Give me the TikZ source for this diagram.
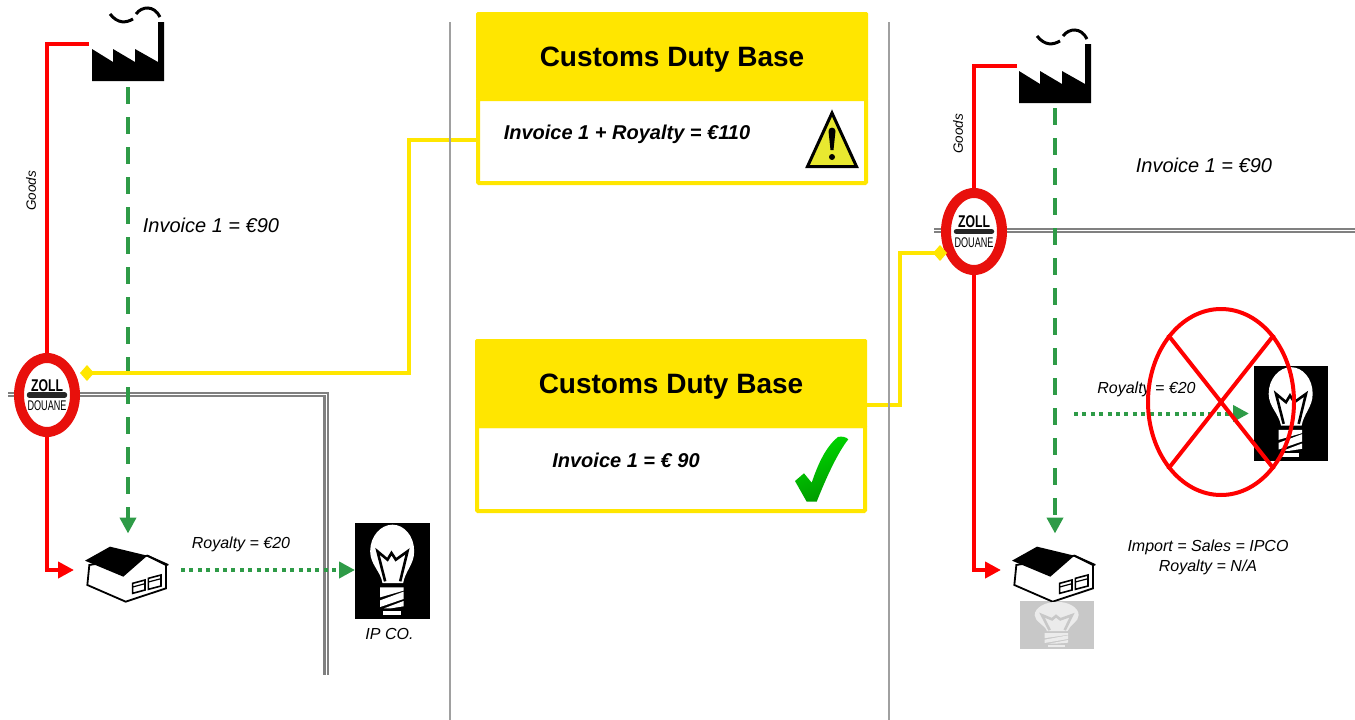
\documentclass[tikz,border=0pt]{standalone}
\usepackage{fontspec}
\setmainfont{Liberation Sans}
\usepackage{xcolor}
\usepackage{tikz}
\usetikzlibrary{arrows.meta, positioning, calc, shapes.geometric}
\definecolor{DutyYellow}{RGB}{255, 230, 0}
\definecolor{SignRed}{RGB}{232, 16, 12}
\definecolor{FlowGreen}{RGB}{46, 155, 71}
\definecolor{WallGray}{RGB}{128, 128, 128}
\definecolor{DividerGray}{RGB}{160, 160, 160}
\definecolor{FadedGray}{RGB}{200, 200, 200}
\definecolor{WarnYellow}{RGB}{232, 232, 48}
\newcommand{\signtext}{%
  \scalebox{.72}[1]{\fontsize{17}{17}\selectfont\bfseries ZOLL}\\[7.5pt]%
  \scalebox{.65}[1]{\fontsize{14}{14}\selectfont DOUANE}}
\tikzset{
  iconbox/.style={minimum width=#1, inner sep=0pt, outer sep=0pt},
  goodsline/.style={draw=red, line width=4.4pt},
  invoiceline/.style={draw=FlowGreen, line width=4pt, dash pattern=on 17pt off 13pt},
  royaltyline/.style={draw=FlowGreen, line width=4pt, dash pattern=on 4pt off 4.4pt},
  flowtip/.style={-{Triangle[length=16pt,width=16pt]}},
  dutyline/.style={draw=DutyYellow, line width=4pt, -{Diamond[length=14pt,width=16pt]}},
  wall/.style={draw=WallGray, line width=2.2pt, double=white, double distance=1pt},
  divider/.style={draw=DividerGray, line width=2pt},
  dutytitle/.style={fill=DutyYellow, minimum width=392pt, inner sep=0pt, outer sep=0pt,
    rounded corners=1.5pt, text height=20pt, text depth=0pt,
    font=\fontsize{28}{30}\selectfont\bfseries},
  dutybody/.style={draw=DutyYellow, fill=white, line width=4pt, minimum width=388pt,
    inner sep=0pt, rounded corners=1pt},
  dutytext/.style={font=\fontsize{20}{24}\selectfont\bfseries\itshape, inner sep=0pt},
  customssign/.style={ellipse, draw=SignRed, fill=white, line width=10pt, minimum width=56pt,
    inner sep=0pt, align=center},
  signbar/.style={draw=black!85, line width=5.5pt, line cap=round},
  amounttext/.style={font=\fontsize{20}{24}\selectfont\itshape, inner sep=0pt},
  smalltext/.style={font=\fontsize{16}{20}\selectfont\itshape, inner sep=0pt, align=center},
  goodstext/.style={font=\fontsize{13.5}{16}\selectfont\itshape, inner sep=0pt, rotate=90},
  pics/factory/.style={code={
    \fill[black] (-36,-2) -- (-15,11) -- (-15,-2) -- (7,11) -- (7,-2) -- (30,11) -- (30,-29)
      -- (36,-29) -- (36,30) -- (-36,30) -- cycle;
    \draw[black, line width=3pt] (-18,-37) .. controls (-10,-27) and (-2,-28) .. (5,-32);
    \draw[black, line width=3pt] (8,-37) .. controls (14,-45) and (26,-46) .. (32,-34);
  }},
  pics/warehouse/.style={code={
    \begin{scope}[shift={(-199.5,-180)}]
      \draw[black, fill=white, line width=1.8pt] (88,165) -- (82,225) -- (197,275) -- (318,235)
        -- (318,165) -- (262,137) -- cycle;
      \fill[black] (75,152) -- (150,110) -- (262,137) -- (190,200) -- cycle;
      \draw[black, line width=1.8pt] (262,137) -- (325,165);
      \draw[black, fill=white, line width=1.6pt] (218,220) -- (255,210) -- (255,240) -- (218,250) -- cycle;
      \draw[black, fill=white, line width=1.6pt] (265,205) -- (303,195) -- (303,228) -- (265,238) -- cycle;
      \draw[black, line width=1.2pt] (218,231) -- (255,221) (265,216) -- (303,206);
    \end{scope}
  }},
  pics/bulb/.style n args={2}{code={
    \fill[#1] (-30,36) .. controls (-36,0) and (-67,-20) .. (-67,-59)
      .. controls (-67,-105) and (-35,-139) .. (0,-139)
      .. controls (35,-139) and (65,-105) .. (65,-59)
      .. controls (65,-20) and (38,0) .. (32,36) -- cycle;
    \draw[#2, line width=2.6pt, line join=miter] (-22,31) -- (-45,-59) -- (-15,-34) -- (-3,-54)
      -- (10,-34) -- (45,-59) -- (23,31);
    \fill[#1] (-37,49) -- (33,49) -- (33,59) -- (-37,79) -- cycle;
    \fill[#1] (-37,88) -- (33,62) -- (33,84) -- (-37,108) -- cycle;
    \fill[#1] (-25,112) -- (33,90) -- (33,106) -- (-5,112) -- cycle;
    \fill[#1] (-28,119) -- (25,119) -- (25,131) -- (-28,131) -- cycle;
  }}
}
\begin{document}
\begin{tikzpicture}[x=1pt, y=-1pt]
  \useasboundingbox (0,0) rectangle (1355,720);

  \node[iconbox=72pt, minimum height=60pt] (factoryA) at (128,51) {};
  \node[iconbox=72pt, minimum height=60pt] (factoryB) at (1055,73) {};
  \node[iconbox=83pt, minimum height=65pt] (houseA) at (126.5,570) {};
  \node[iconbox=83pt, minimum height=65pt] (houseB) at (1053.5,570) {};
  \node[iconbox=75pt, minimum height=96pt, fill=black] (bulbA) at (392.5,571) {};
  \node[iconbox=74pt, minimum height=95pt, fill=black] (bulbB) at (1291,413.5) {};
  \node[iconbox=74pt, minimum height=48pt, fill=FadedGray] (bulbC) at (1057,625) {};
  \pic at (factoryA) {factory};
  \pic at (factoryB) {factory};
  \pic[scale=1/3] at (houseA) {warehouse};
  \pic[scale=1/3] at (houseB) {warehouse};
  \pic[scale=1/3] at (bulbA) {bulb={white}{black}};
  \pic[scale=1/3] at (bulbB) {bulb={white}{black}};
  \pic[xscale=1/3, yscale=1/6] at (bulbC) {bulb={black!8}{FadedGray}};

  \draw[wall] (8,394.5) -| (326,675);
  \draw[wall] (934,230.5) -- (1355,230.5);

  \node[dutybody, minimum height=84pt] (bodyA) at (672,141) {};
  \node[dutytitle, minimum height=88pt] (titleA) at (672,56) {Customs Duty Base};
  \node[dutybody, minimum height=85pt] (bodyB) at (671,468.5) {};
  \node[dutytitle, minimum height=89pt] (titleB) at (671,383.5) {Customs Duty Base};
  \node[dutytext] (sumA) at (627,134) {Invoice 1 + Royalty = €110};
  \node[dutytext] (sumB) at (626,460) {Invoice 1 = € 90};

  \coordinate (turnA) at (47,570);
  \coordinate (turnB) at (974,570);
  \draw[goodsline, flowtip, shorten >=11pt] ([shift={(-3.5pt,7pt)}]factoryA.west) -| (turnA) -- (houseA.west);
  \draw[goodsline, flowtip, shorten >=11pt] ([shift={(-2pt,7pt)}]factoryB.west) -| (turnB) -- (houseB.west);

  \node[customssign, minimum height=74pt] (signA) at (47,395) {\signtext};
  \node[customssign, minimum height=77pt] (signB) at (974,231.5) {\signtext};
  \draw[signbar] ([xshift=-17.5pt]signA.center) -- ([xshift=17.5pt]signA.center);
  \draw[signbar] ([xshift=-17.5pt]signB.center) -- ([xshift=17.5pt]signB.center);

  \draw[invoiceline, flowtip, shorten <=6pt, shorten >=4pt] (factoryA.south) -- (factoryA.south |- houseA.north);
  \draw[invoiceline, flowtip, shorten <=5pt, shorten >=4pt] (factoryB.south) -- (factoryB.south |- houseB.north);
  \draw[royaltyline, flowtip, shorten <=13pt] (houseA.east) -- (houseA.east -| bulbA.west);
  \coordinate (royaltyB) at (1074,413.5);
  \draw[royaltyline, flowtip, shorten >=5pt] (royaltyB) -- (bulbB.west);

  \draw[dutyline] ([yshift=1pt]bodyA.west) -- ++(-67,0) |- ([yshift=22pt]signA.east);
  \draw[dutyline] ([yshift=-21.5pt]titleB.east) -- ++(33,0) |- ([shift={(6pt,-21.5pt)}]signB.west);

  \draw[divider] (450,22) -- (450,720);
  \draw[divider] (889,22) -- (889,720);

  \node[goodstext] (goodsA) at (31,191) {Goods};
  \node[goodstext] (goodsB) at (958,134) {Goods};
  \node[amounttext] (invoiceA) at (211,225) {Invoice 1 = €90};
  \node[amounttext] (invoiceB) at (1204,165) {Invoice 1 = €90};
  \node[smalltext] (royaltyTextA) at (241,544) {Royalty = €20};
  \node[smalltext] (royaltyTextB) at (1146.5,389) {Royalty = €20};
  \node[smalltext] (ipco) at (389.5,634) {IP CO.};
  \node[smalltext] (importText) at (1208,557) {Import = Sales = IPCO\\Royalty = N/A};

  \node[ellipse, draw=red, line width=4pt, minimum width=146pt, minimum height=186pt, inner sep=0pt] (crossOut) at (1221,402) {};
  \draw[red, line width=4pt] (crossOut.north west) -- (crossOut.south east);
  \draw[red, line width=4pt] (crossOut.north east) -- (crossOut.south west);

  \draw[black, fill=WarnYellow, line width=3pt, line join=miter] (832,113) -- (856.5,166.5) -- (807.5,166.5) -- cycle;
  \fill[black] (828.5,131) .. controls (829,126.5) and (835,126.5) .. (835.5,131) -- (833.5,150) -- (830.5,150) -- cycle;
  \fill[black] (832,157) circle (3);

  \shade[top color=green!85!black, bottom color=green!60!black, shading angle=20]
    (795,481) -- (804,473.3) -- (811.7,482.7) .. controls (816,470) and (824,448) .. (838,437)
    .. controls (842,436) and (846,437) .. (848.3,439.3) .. controls (838,452) and (826,478) .. (816.7,501.7)
    -- (806.7,501.7) -- cycle;
\end{tikzpicture}
\end{document}
